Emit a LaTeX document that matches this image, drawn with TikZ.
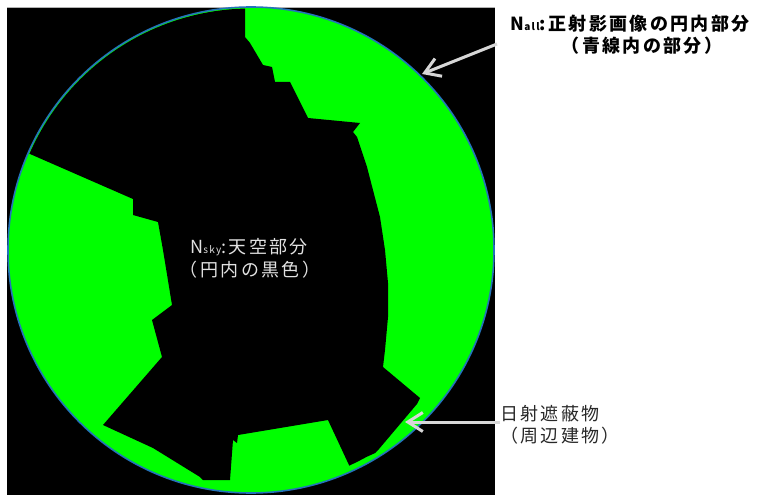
\documentclass[tikz,border=0pt]{standalone}
\usepackage{fontspec}
\setmainfont{Noto Sans CJK JP}
\newfontfamily\jp[LetterSpace=13]{Noto Sans CJK JP}
\usetikzlibrary{calc,arrows.meta}
\definecolor{skygreen}{RGB}{0,255,0}
\definecolor{rimblue}{RGB}{35,115,185}
\definecolor{arrowgray}{RGB}{215,215,215}
\definecolor{labeldark}{RGB}{40,40,40}
\definecolor{labellight}{RGB}{225,225,225}
\begin{document}
\begin{tikzpicture}[x=1pt,y=-1pt,
  lbl/.style={inner sep=0pt,font=\jp\fontsize{18}{20}\selectfont},
  boldlbl/.style={lbl,font=\jp\bfseries\fontsize{18}{20}\selectfont,text=black},
  pointer/.style={draw=arrowgray,line width=3pt,-{Straight Barb[length=15pt,width=19pt,line width=3pt]}}]
\useasboundingbox (0,0) rectangle (764,495);
\fill[white] (0,0) rectangle (764,495);
\fill[black] (7,8) rectangle (495,495);
\draw[gray!60,line width=1pt] (7,8) -- (495,8);
\coordinate (C) at (251,250);
\fill[skygreen] (C) circle[radius=243];
\begin{scope}
\clip (C) circle[radius=241.5];
\fill[black] (0,0) -- (245,0) -- (245,37) -- (250,43) -- (263,65) -- (272,67) -- (275,82) -- (290,82)
  -- (308,118) -- (360,123) -- (353,132) -- (357,137) -- (367,167) -- (380,217) -- (385,250)
  -- (388,283) -- (388,317) -- (385,350) -- (383,367) -- (420,398) -- (417,404) -- (379,449)
  -- ($(C)+(58.5:238)$) -- ($(C)+(60.8:237)$) -- ($(C)+(63.2:237)$) -- ($(C)+(65.5:237)$)
  -- (328,420) -- (250,433) -- (238,435) -- (237,443) -- (233,440) -- (230,480) -- (203,480)
  -- (200,477) -- (153,448) -- (103,425) -- (162,357) -- (152,320) -- (172,305) -- (163,250)
  -- (158,222) -- (133,215) -- (133,199) -- (30,154) -- (0,141) -- cycle;
\end{scope}
\draw[rimblue,line width=1.6pt] (C) circle[radius=243];
% labels
\node[boldlbl] (all1) at (630,24)
  {N{\fontsize{10}{10}\selectfont all}:正射影画像の円内部分};
\node[boldlbl] (all2) at (642,46) {（青線内の部分）};
\node[lbl,text=labellight] (sky1) at (249,247) {N{\fontsize{10}{10}\selectfont sky}:天空部分};
\node[lbl,text=labellight] (sky2) at (250,270) {（円内の黒色）};
\node[lbl,text=labeldark,anchor=west] (obs1) at (500,414) {日射遮蔽物};
\node[lbl,text=labeldark,anchor=west] (obs2) at (500,436) {（周辺建物）};
% arrows
\coordinate (a1s) at (497,44);
\coordinate (a1e) at (422,74);
\coordinate (a2e) at (405,422);
\draw[pointer] (a1s) -- (a1e);
\draw[pointer] (obs1.west |- 0,422) -- (a2e);
\end{tikzpicture}
\end{document}
